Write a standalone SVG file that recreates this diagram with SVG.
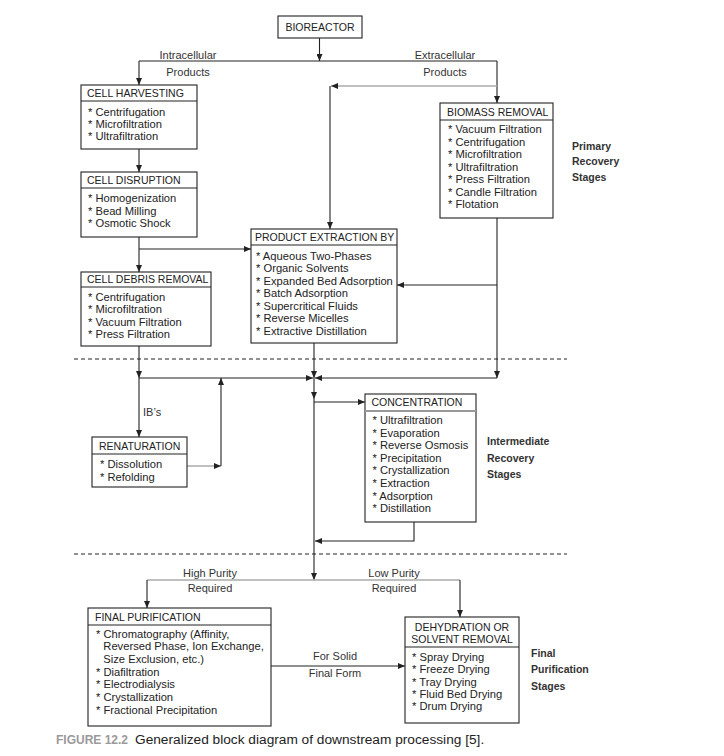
<svg xmlns="http://www.w3.org/2000/svg" width="724" height="756" viewBox="0 0 724 756">
<style>
text{font-family:"Liberation Sans",Arial,Helvetica,sans-serif;fill:#222}
.box{fill:#fff;stroke:#222;stroke-width:1.1}
.dv{stroke:#222;stroke-width:1.1}
.h{font-size:10.5px}
.i{font-size:11.2px}
.lbl{font-size:11px;fill:#333}
.st{font-size:10.5px;font-weight:bold;fill:#333}
.c{stroke:#222;stroke-width:1.1;fill:none}
.g{stroke:#aaa;stroke-width:1.6;fill:none}
.dash{stroke:#222;stroke-width:1;stroke-dasharray:4 3;fill:none}
</style>
<defs>
<marker id="a" markerWidth="7" markerHeight="6" refX="7" refY="3" orient="auto" markerUnits="userSpaceOnUse"><path d="M0,0 L7,3 L0,6 z" fill="#222"/></marker>
</defs>

<g id="connectors">
<line class="c" x1="319.5" y1="38" x2="319.5" y2="61" marker-end="url(#a)"/>
<line class="c" x1="139" y1="61" x2="497" y2="61"/>
<line class="c" x1="139" y1="61" x2="139" y2="85" marker-end="url(#a)"/>
<line class="c" x1="497" y1="61" x2="497" y2="103" marker-end="url(#a)"/>
<line class="g" x1="497" y1="86" x2="331" y2="86" marker-end="url(#a)"/>
<line class="c" x1="330" y1="86" x2="330" y2="229" marker-end="url(#a)"/>
<line class="c" x1="139" y1="149" x2="139" y2="172" marker-end="url(#a)"/>
<line class="c" x1="139" y1="237" x2="139" y2="272" marker-end="url(#a)"/>
<line class="c" x1="139" y1="249" x2="251" y2="249" marker-end="url(#a)"/>
<line class="c" x1="497" y1="218" x2="497" y2="378" marker-end="url(#a)"/>
<line class="c" x1="497" y1="285" x2="397" y2="285" marker-end="url(#a)"/>
<line class="c" x1="497" y1="378" x2="315" y2="378" marker-end="url(#a)"/>
<line class="c" x1="314" y1="343" x2="314" y2="378" marker-end="url(#a)"/>
<line class="c" x1="314" y1="378" x2="314" y2="399" marker-end="url(#a)"/>
<line class="c" x1="314" y1="399" x2="314" y2="580" marker-end="url(#a)"/>
<line class="c" x1="139" y1="346" x2="139" y2="378" marker-end="url(#a)"/>
<line class="c" x1="139" y1="378" x2="313" y2="378" marker-end="url(#a)"/>
<line class="c" x1="139" y1="378" x2="139" y2="437" marker-end="url(#a)"/>
<line class="g" x1="187" y1="466" x2="221" y2="466" marker-end="url(#a)"/>
<line class="c" x1="221" y1="466" x2="221" y2="378" marker-end="url(#a)"/>
<line class="c" x1="314" y1="402" x2="365" y2="402" marker-end="url(#a)"/>
<polyline class="c" points="414,522 414,541 315,541" marker-end="url(#a)"/>
<line class="dash" x1="74" y1="359" x2="567" y2="359"/>
<line class="dash" x1="74" y1="554" x2="567" y2="554"/>
<line class="g" x1="147" y1="580" x2="460" y2="580"/>
<line class="c" x1="147" y1="580" x2="147" y2="608" stroke="#666" marker-end="url(#a)"/>
<line class="c" x1="460" y1="580" x2="460" y2="617" stroke="#666" marker-end="url(#a)"/>
<line class="c" x1="271" y1="666" x2="405" y2="666" marker-end="url(#a)"/>
</g>

<g id="labels">
<text class="lbl" x="188" y="59" text-anchor="middle">Intracellular</text>
<text class="lbl" x="188" y="76" text-anchor="middle">Products</text>
<text class="lbl" x="445" y="59" text-anchor="middle">Extracellular</text>
<text class="lbl" x="445" y="76" text-anchor="middle">Products</text>
<text class="lbl" x="143" y="416">IB’s</text>
<text class="lbl" x="210" y="577" text-anchor="middle">High Purity</text>
<text class="lbl" x="210" y="592" text-anchor="middle">Required</text>
<text class="lbl" x="394" y="577" text-anchor="middle">Low Purity</text>
<text class="lbl" x="394" y="592" text-anchor="middle">Required</text>
<text class="lbl" x="335" y="660" text-anchor="middle">For Solid</text>
<text class="lbl" x="335" y="677" text-anchor="middle">Final Form</text>
<text class="st" x="572" y="150">Primary</text>
<text class="st" x="572" y="165">Recovery</text>
<text class="st" x="572" y="181">Stages</text>
<text class="st" x="487" y="445">Intermediate</text>
<text class="st" x="487" y="462">Recovery</text>
<text class="st" x="487" y="478">Stages</text>
<text class="st" x="531" y="657">Final</text>
<text class="st" x="531" y="673">Purification</text>
<text class="st" x="531" y="690">Stages</text>
</g>

<g id="bioreactor">
<rect class="box" x="278" y="16" width="84" height="22"/>
<text class="h" x="320" y="31" text-anchor="middle">BIOREACTOR</text>
</g>

<g id="cell-harvesting">
<rect class="box" x="81" y="85" width="116" height="64"/>
<line class="dv" x1="81" y1="101" x2="197" y2="101"/>
<text class="h" x="87" y="97">CELL HARVESTING</text>
<text class="i"><tspan x="88" y="116">* Centrifugation</tspan><tspan x="88" y="128">* Microfiltration</tspan><tspan x="88" y="140">* Ultrafiltration</tspan></text>
</g>

<g id="cell-disruption">
<rect class="box" x="81" y="172" width="116" height="65"/>
<line class="dv" x1="81" y1="188" x2="197" y2="188"/>
<text class="h" x="87" y="184">CELL DISRUPTION</text>
<text class="i"><tspan x="88" y="202">* Homogenization</tspan><tspan x="88" y="215">* Bead Milling</tspan><tspan x="88" y="227">* Osmotic Shock</tspan></text>
</g>

<g id="biomass-removal">
<rect class="box" x="440" y="103" width="113" height="115"/>
<line class="dv" x1="440" y1="120" x2="553" y2="120"/>
<text class="h" x="447" y="115.5">BIOMASS REMOVAL</text>
<text class="i"><tspan x="448" y="133">* Vacuum Filtration</tspan><tspan x="448" y="145.5">* Centrifugation</tspan><tspan x="448" y="158">* Microfiltration</tspan><tspan x="448" y="170.5">* Ultrafiltration</tspan><tspan x="448" y="183">* Press Filtration</tspan><tspan x="448" y="195.5">* Candle Filtration</tspan><tspan x="448" y="208">* Flotation</tspan></text>
</g>

<g id="product-extraction">
<rect class="box" x="251" y="229" width="146" height="114"/>
<line class="dv" x1="251" y1="245" x2="397" y2="245"/>
<text class="h" x="255" y="241">PRODUCT EXTRACTION BY</text>
<text class="i"><tspan x="256" y="259.5">* Aqueous Two-Phases</tspan><tspan x="256" y="272">* Organic Solvents</tspan><tspan x="256" y="284.5">* Expanded Bed Adsorption</tspan><tspan x="256" y="297">* Batch Adsorption</tspan><tspan x="256" y="309.5">* Supercritical Fluids</tspan><tspan x="256" y="322">* Reverse Micelles</tspan><tspan x="256" y="334.5">* Extractive Distillation</tspan></text>
</g>

<g id="cell-debris-removal">
<rect class="box" x="81" y="272" width="130" height="74"/>
<line class="dv" x1="81" y1="287" x2="211" y2="287"/>
<text class="h" x="87" y="283">CELL DEBRIS REMOVAL</text>
<text class="i"><tspan x="88" y="301">* Centrifugation</tspan><tspan x="88" y="313.4">* Microfiltration</tspan><tspan x="88" y="325.8">* Vacuum Filtration</tspan><tspan x="88" y="338.2">* Press Filtration</tspan></text>
</g>

<g id="renaturation">
<rect class="box" x="92" y="437" width="95" height="50"/>
<line class="dv" x1="92" y1="454" x2="187" y2="454"/>
<text class="h" x="99" y="450">RENATURATION</text>
<text class="i"><tspan x="100" y="468.3">* Dissolution</tspan><tspan x="100" y="481">* Refolding</tspan></text>
</g>

<g id="concentration">
<rect class="box" x="365" y="394" width="111" height="128"/>
<line x1="365" y1="411" x2="476" y2="411" stroke="#999" stroke-width="2"/>
<text class="h" x="371.5" y="406">CONCENTRATION</text>
<text class="i"><tspan x="372.5" y="424">* Ultrafiltration</tspan><tspan x="372.5" y="436.6">* Evaporation</tspan><tspan x="372.5" y="449.2">* Reverse Osmosis</tspan><tspan x="372.5" y="461.8">* Precipitation</tspan><tspan x="372.5" y="474.4">* Crystallization</tspan><tspan x="372.5" y="487">* Extraction</tspan><tspan x="372.5" y="499.6">* Adsorption</tspan><tspan x="372.5" y="512.2">* Distillation</tspan></text>
</g>

<g id="final-purification">
<rect class="box" x="88" y="608" width="183" height="118"/>
<line class="dv" x1="88" y1="625" x2="271" y2="625"/>
<text class="h" x="95" y="621">FINAL PURIFICATION</text>
<text class="i"><tspan x="96" y="637.5">* Chromatography (Affinity,</tspan><tspan x="103.3" y="650.2">Reversed Phase, Ion Exchange,</tspan><tspan x="103.3" y="662.8">Size Exclusion, etc.)</tspan><tspan x="96" y="675.5">* Diafiltration</tspan><tspan x="96" y="688.2">* Electrodialysis</tspan><tspan x="96" y="700.8">* Crystallization</tspan><tspan x="96" y="713.5">* Fractional Precipitation</tspan></text>
</g>

<g id="dehydration">
<rect class="box" x="405" y="617" width="114" height="106"/>
<line class="dv" x1="405" y1="647" x2="519" y2="647"/>
<text class="h" x="462" y="630.5" text-anchor="middle">DEHYDRATION OR</text>
<text class="h" x="462" y="642.5" text-anchor="middle">SOLVENT REMOVAL</text>
<text class="i"><tspan x="412" y="660.7">* Spray Drying</tspan><tspan x="412" y="673.1">* Freeze Drying</tspan><tspan x="412" y="685.5">* Tray Drying</tspan><tspan x="412" y="697.9">* Fluid Bed Drying</tspan><tspan x="412" y="710.3">* Drum Drying</tspan></text>
</g>

<g id="caption">
<text x="56" y="744" font-size="12" font-weight="bold" style="fill:#9a9a9a" textLength="72" lengthAdjust="spacingAndGlyphs">FIGURE 12.2</text>
<text x="135" y="744" font-size="13.7">Generalized block diagram of downstream processing [5].</text>
</g>
</svg>
